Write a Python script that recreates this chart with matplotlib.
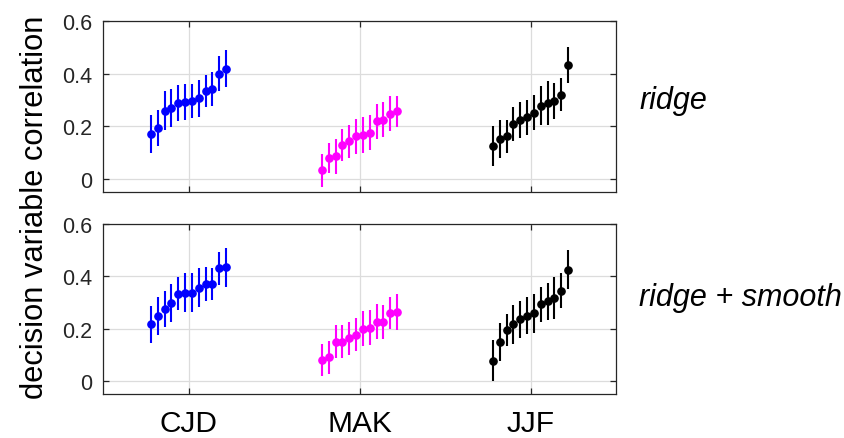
import numpy as np
import matplotlib
matplotlib.use('Agg')
import matplotlib.pyplot as plt

# nombres de los sujetos y colores
subjects = ['CJD', 'MAK', 'JJF']
colors = ['#0000ff', '#ff00ff', '#000000']
rows = ['ridge', 'ridge + smooth']

# valores (12 sesiones por sujeto, ordenadas)
ridge_cjd = [0.171, 0.194, 0.259, 0.270, 0.288, 0.291, 0.296, 0.306, 0.333, 0.342, 0.400, 0.419]
ridge_cjd_err = [0.073, 0.068, 0.073, 0.072, 0.068, 0.068, 0.063, 0.070, 0.060, 0.066, 0.066, 0.069]
ridge_mak = [0.032, 0.081, 0.085, 0.129, 0.143, 0.161, 0.168, 0.176, 0.219, 0.225, 0.248, 0.257]
ridge_mak_err = [0.063, 0.057, 0.066, 0.061, 0.063, 0.066, 0.068, 0.067, 0.067, 0.066, 0.065, 0.059]
ridge_jjf = [0.125, 0.152, 0.161, 0.209, 0.224, 0.234, 0.252, 0.278, 0.289, 0.297, 0.319, 0.433]
ridge_jjf_err = [0.075, 0.072, 0.061, 0.065, 0.068, 0.067, 0.068, 0.073, 0.084, 0.068, 0.063, 0.067]

smooth_cjd = [0.217, 0.249, 0.276, 0.297, 0.334, 0.338, 0.338, 0.357, 0.371, 0.371, 0.430, 0.434]
smooth_cjd_err = [0.071, 0.072, 0.069, 0.072, 0.062, 0.074, 0.075, 0.075, 0.065, 0.062, 0.062, 0.073]
smooth_mak = [0.081, 0.090, 0.150, 0.150, 0.163, 0.176, 0.199, 0.203, 0.227, 0.227, 0.259, 0.263]
smooth_mak_err = [0.062, 0.063, 0.062, 0.063, 0.063, 0.063, 0.067, 0.067, 0.067, 0.065, 0.062, 0.068]
smooth_jjf = [0.077, 0.149, 0.194, 0.217, 0.236, 0.250, 0.258, 0.293, 0.304, 0.316, 0.344, 0.425]
smooth_jjf_err = [0.079, 0.071, 0.060, 0.075, 0.071, 0.070, 0.074, 0.067, 0.072, 0.080, 0.067, 0.075]

data = [
    [(ridge_cjd, ridge_cjd_err), (ridge_mak, ridge_mak_err), (ridge_jjf, ridge_jjf_err)],
    [(smooth_cjd, smooth_cjd_err), (smooth_mak, smooth_mak_err), (smooth_jjf, smooth_jjf_err)],
]

plt.rcParams['font.family'] = ['Liberation Sans', 'DejaVu Sans']
axcol = '#262626'

fig = plt.figure(figsize=(8.45, 4.39), dpi=100)
ax_top = fig.add_axes([0.1219, 0.5604, 0.6071, 0.3895])
ax_bot = fig.add_axes([0.1219, 0.1002, 0.6071, 0.3873])
axes = [ax_top, ax_bot]
label_y = [0.54, 0.57]

for r, ax in enumerate(axes):
    for s in range(3):
        vals, errs = data[r][s]
        x = (s + 1) + np.linspace(-0.22, 0.22, len(vals))
        ax.errorbar(x, vals, yerr=errs, fmt='o', color=colors[s], ms=5.2,
                    elinewidth=1.5, capsize=0, zorder=3)
    ax.set_xlim(0.5, 3.5)
    ax.set_ylim(-0.05, 0.6)
    ax.set_xticks([1, 2, 3])
    ax.set_yticks([0, 0.2, 0.4, 0.6])
    ax.set_yticklabels(['0', '0.2', '0.4', '0.6'])
    ax.grid(True, color='#dcdcdc', linewidth=0.9, zorder=0)
    ax.set_axisbelow(True)
    ax.tick_params(direction='in', top=True, right=True, length=4, width=0.9,
                   colors=axcol, labelsize=15.5, pad=8)
    for sp in ax.spines.values():
        sp.set_color(axcol)
        sp.set_linewidth(0.9)
    ax.text(1.045, label_y[r], rows[r], transform=ax.transAxes, fontsize=22,
            style='italic', va='center', ha='left', color='#000000')

ax_top.set_xticklabels([])
ax_bot.set_xticklabels(subjects)
ax_bot.tick_params(axis='x', labelsize=21.5, pad=11, labelcolor='#000000')

fig.text(0.041, 0.528, 'decision variable correlation', rotation=90,
         fontsize=22.2, va='center', ha='center', color='#000000')

fig.savefig('out.png', dpi=100)
